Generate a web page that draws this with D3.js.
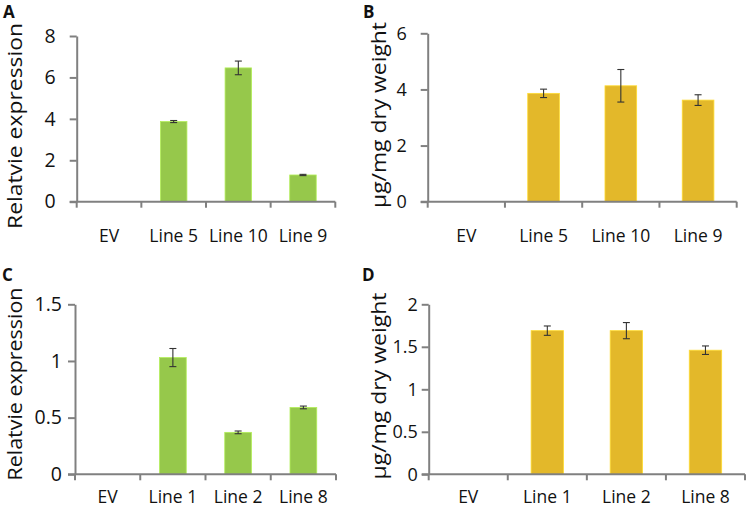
<!DOCTYPE html>
<html><head><meta charset="utf-8">
<script src="https://cdn.jsdelivr.net/npm/d3@7"></script>
<style>
html,body{margin:0;padding:0;background:#fff;}
svg{display:block;}
text{font-family:"Open Sans",sans-serif;fill:#111;}
</style></head>
<body><svg id="c" width="747" height="513"></svg>
<script>
// ---- data ----
const categoriesTop = ["EV", "Line 5", "Line 10", "Line 9"];
const categoriesBottom = ["EV", "Line 1", "Line 2", "Line 8"];
const exprA = [0, 3.87, 6.46, 1.29];
const errA = [0, 0.05, 0.33, 0.03];
const contentB = [0, 3.86, 4.13, 3.62];
const errB = [0, 0.15, 0.58, 0.19];
const exprC = [0, 1.03, 0.37, 0.59];
const errC = [0, 0.08, 0.012, 0.012];
const contentD = [0, 1.69, 1.69, 1.46];
const errD = [0, 0.055, 0.095, 0.05];
const ticksA = [0, 2, 4, 6, 8];
const ticksB = [0, 2, 4, 6];
const ticksC = [0, 0.5, 1, 1.5];
const ticksD = [0, 0.5, 1, 1.5, 2];
const labelExpr = "Relatvie expression";
const labelContent = "μg/mg dry weight";

const green = "#96c84b", yellow = "#e3b82a";
const svg = d3.select("#c");

const panels = [
  {letter:"A", lx:3, ly:18, cats:categoriesTop, vals:exprA, errs:errA, ticks:ticksA, color:green,
   x0:76.7, x1:335.3, y0:201.7, y1:36, tickFs:19.5, pad:14, catBase:242, ylab:labelExpr, ylx:22, yly:126, ylen:206},
  {letter:"B", lx:363, ly:17.5, cats:categoriesTop, vals:contentB, errs:errB, ticks:ticksB, color:yellow,
   x0:427.7, x1:736.7, y0:201.7, y1:33.3, tickFs:18, pad:14, catBase:242, ylab:labelContent, ylx:386, yly:115, ylen:186},
  {letter:"C", lx:2, ly:281, cats:categoriesBottom, vals:exprC, errs:errC, ticks:ticksC, color:green,
   x0:75, x1:336, y0:474.3, y1:304.3, tickFs:19.5, pad:6, catBase:503, ylab:labelExpr, ylx:22, yly:384, ylen:193},
  {letter:"D", lx:362, ly:281, cats:categoriesBottom, vals:contentD, errs:errD, ticks:ticksD, color:yellow,
   x0:428.7, x1:745, y0:474.3, y1:304.3, tickFs:18, pad:4, catBase:503, ylab:labelContent, ylx:386, yly:386, ylen:187}
];

panels.forEach((p) => {
  const g = svg.append("g");
  const x = d3.scaleBand().domain(p.cats).range([p.x0, p.x1]).paddingInner(0.59).paddingOuter(0.295);
  const step = x.step();
  const y = d3.scaleLinear().domain([0, d3.max(p.ticks)]).range([p.y0, p.y1]);

  // bars
  const rows = p.cats.map((c, i) => ({c, v:p.vals[i], e:p.errs[i]}));
  g.selectAll("rect.bar").data(rows.filter(d => d.v > 0)).join("rect")
    .attr("x", d => x(d.c)).attr("width", x.bandwidth())
    .attr("y", d => y(d.v)).attr("height", d => y(0) - y(d.v))
    .attr("fill", p.color).attr("stroke", d3.color(p.color).brighter(0.5)).attr("stroke-width", 0.8);

  // error bars
  const eb = g.selectAll("g.err").data(rows.filter(d => d.v > 0)).join("g")
    .attr("stroke", "#333").attr("stroke-width", 1.1).attr("fill", "none");
  const cx = d => x(d.c) + x.bandwidth()/2;
  eb.append("line").attr("x1", cx).attr("x2", cx)
    .attr("y1", d => y(d.v + d.e)).attr("y2", d => y(d.v - d.e));
  eb.append("line").attr("x1", d => cx(d) - 3.5).attr("x2", d => cx(d) + 3.5)
    .attr("y1", d => y(d.v + d.e)).attr("y2", d => y(d.v + d.e));
  eb.append("line").attr("x1", d => cx(d) - 3.5).attr("x2", d => cx(d) + 3.5)
    .attr("y1", d => y(d.v - d.e)).attr("y2", d => y(d.v - d.e));

  // y axis
  const ya = g.append("g").attr("transform", `translate(${p.x0},0)`)
    .call(d3.axisLeft(y).tickValues(p.ticks).tickSize(7).tickSizeOuter(0).tickPadding(p.pad).tickFormat(d3.format("")));
  ya.select(".domain").attr("stroke", "#808080").attr("stroke-width", 2);
  ya.selectAll(".tick line").attr("stroke", "#808080").attr("stroke-width", 2);
  ya.selectAll(".tick text").attr("font-family", "'Open Sans',sans-serif").attr("font-size", p.tickFs).attr("fill", "#111");

  // x axis
  g.append("line").attr("x1", p.x0 - 7).attr("x2", p.x1).attr("y1", p.y0).attr("y2", p.y0)
    .attr("stroke", "#808080").attr("stroke-width", 2);
  g.selectAll("line.xt").data(d3.range(p.cats.length + 1)).join("line")
    .attr("x1", i => p.x0 + i * step).attr("x2", i => p.x0 + i * step)
    .attr("y1", p.y0).attr("y2", p.y0 + 6)
    .attr("stroke", "#808080").attr("stroke-width", 2);
  g.selectAll("text.cat").data(p.cats).join("text")
    .attr("x", d => x(d) + x.bandwidth()/2).attr("y", p.catBase)
    .attr("text-anchor", "middle").attr("font-size", 17.5).text(d => d);

  // y label
  g.append("text")
    .attr("transform", `translate(${p.ylx},${p.yly}) rotate(-90)`)
    .attr("text-anchor", "middle").attr("font-size", 20.5)
    .attr("font-family", "'Liberation Sans',Arial,sans-serif")
    .attr("textLength", p.ylen).attr("lengthAdjust", "spacingAndGlyphs")
    .text(p.ylab);

  // panel letter
  svg.append("text").attr("x", p.lx).attr("y", p.ly)
    .attr("font-family", "'Liberation Sans',Arial,sans-serif").attr("font-weight", "bold")
    .attr("font-size", 17).text(p.letter);
});
</script>
</body></html>
